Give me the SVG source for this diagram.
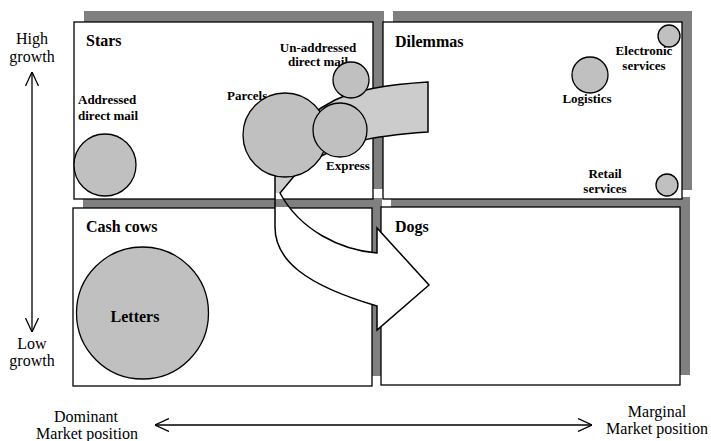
<svg xmlns="http://www.w3.org/2000/svg" width="711" height="441" viewBox="0 0 711 441">
<defs>
<style>
.shadow{fill:#808080;stroke:none}
.box{fill:#ffffff;stroke:#000;stroke-width:1.3}
.bubble{fill:#c0c0c0;stroke:#000;stroke-width:1.3}
.hdr{font-family:"Liberation Serif","Times New Roman",serif;font-weight:bold;font-size:16px;fill:#000}
.lbl{font-family:"Liberation Serif","Times New Roman",serif;font-weight:bold;font-size:13px;fill:#000}
.ax{font-family:"Liberation Serif","Times New Roman",serif;font-size:16px;fill:#000;text-anchor:middle}
.axis{stroke:#000;stroke-width:1.3;fill:none}
.mid{text-anchor:middle}
</style>
<marker id="vhead" viewBox="0 0 14 14" refX="14" refY="7" markerWidth="14" markerHeight="14" markerUnits="userSpaceOnUse" orient="auto-start-reverse">
<path d="M0,0.5 L14,7 L0,13.5" fill="none" stroke="#000" stroke-width="1.3"/>
</marker>
<linearGradient id="ribbonFill" gradientUnits="userSpaceOnUse" x1="0" y1="0" x2="0" y2="441">
<stop offset="0" stop-color="#cccccc"/>
<stop offset="0.4376" stop-color="#cccccc"/>
<stop offset="0.4376" stop-color="#ffffff"/>
<stop offset="0.4512" stop-color="#ffffff"/>
<stop offset="0.4512" stop-color="#808080"/>
<stop offset="0.4705" stop-color="#808080"/>
<stop offset="0.4705" stop-color="#ffffff"/>
<stop offset="1" stop-color="#ffffff"/>
</linearGradient>
</defs>
<rect width="711" height="441" fill="#ffffff"/>

<g id="quadrant-stars">
<rect class="shadow" x="84" y="11" width="300" height="178"/>
</g>
<g id="quadrant-dilemmas">
<rect class="shadow" x="393" y="11" width="299" height="179"/>
</g>
<g id="quadrant-cashcows">
<rect class="shadow" x="83" y="198" width="299" height="178"/>
</g>
<g id="quadrant-dogs">
<rect class="shadow" x="391" y="197" width="299" height="178"/>
</g>

<g id="stars">
<rect class="box" x="74" y="22" width="299" height="177"/>
<text class="hdr" x="86" y="46">Stars</text>
</g>
<g id="dilemmas">
<rect class="box" x="383" y="22" width="299" height="177"/>
<text class="hdr" x="395" y="47">Dilemmas</text>
</g>
<g id="cash-cows">
<rect class="box" x="73" y="208" width="299" height="178"/>
<text class="hdr" x="86" y="232">Cash cows</text>
</g>
<g id="dogs">
<rect class="box" x="381" y="207" width="299" height="178"/>
<text class="hdr" x="395" y="232">Dogs</text>
</g>

<g id="labels-under">
<text class="lbl" x="227" y="100">Parcels</text>
<text class="lbl mid" x="318" y="52">Un-addressed</text>
<text class="lbl mid" x="318" y="66">direct mail</text>
</g>

<g id="connectors">
<path d="M428,82 C395,84 360,88 335,100 C300,118 276,145 275,178 L275,227 C275,260 305,285 377,306 L377,330 L429,285 L377,228 L377,253 C340,250 300,230 280,193 L295,175 C310,160 335,148 360,141 C375,137 400,134 428,132 Z" fill="url(#ribbonFill)" stroke="#000" stroke-width="1.5" stroke-linejoin="miter"/>
</g>

<g id="axes">
<line class="axis" x1="32" y1="332" x2="32" y2="72" marker-start="url(#vhead)" marker-end="url(#vhead)"/>
<line class="axis" x1="155" y1="425" x2="592" y2="425" marker-start="url(#vhead)" marker-end="url(#vhead)"/>
<text class="ax" x="32" y="44">High</text>
<text class="ax" x="32" y="62">growth</text>
<text class="ax" x="32" y="349">Low</text>
<text class="ax" x="32" y="366">growth</text>
<text class="ax" x="86" y="422">Dominant</text>
<text class="ax" x="87" y="439">Market position</text>
<text class="ax" x="657" y="417">Marginal</text>
<text class="ax" x="657" y="434">Market position</text>
</g>

<g id="addressed-direct-mail">
<circle class="bubble" cx="105" cy="165" r="31"/>
<text class="lbl" x="78" y="104">Addressed</text>
<text class="lbl" x="78" y="120">direct mail</text>
</g>
<g id="parcels">
<circle class="bubble" cx="285" cy="135" r="42"/>
</g>
<g id="express">
<circle class="bubble" cx="340" cy="130" r="27"/>
<text class="lbl mid" x="348" y="170">Express</text>
</g>
<g id="unaddressed-direct-mail">
<circle class="bubble" cx="351" cy="80" r="18"/>
</g>
<g id="logistics">
<circle class="bubble" cx="590" cy="75" r="18"/>
<text class="lbl mid" x="587" y="103">Logistics</text>
</g>
<g id="electronic-services">
<circle class="bubble" cx="669" cy="36" r="11"/>
<text class="lbl mid" x="644" y="55">Electronic</text>
<text class="lbl mid" x="644" y="70">services</text>
</g>
<g id="retail-services">
<circle class="bubble" cx="667" cy="185" r="11"/>
<text class="lbl mid" x="605" y="178">Retail</text>
<text class="lbl mid" x="605" y="193">services</text>
</g>
<g id="letters">
<circle class="bubble" cx="142.5" cy="313" r="66"/>
<text class="hdr mid" x="135" y="322">Letters</text>
</g>
</svg>
